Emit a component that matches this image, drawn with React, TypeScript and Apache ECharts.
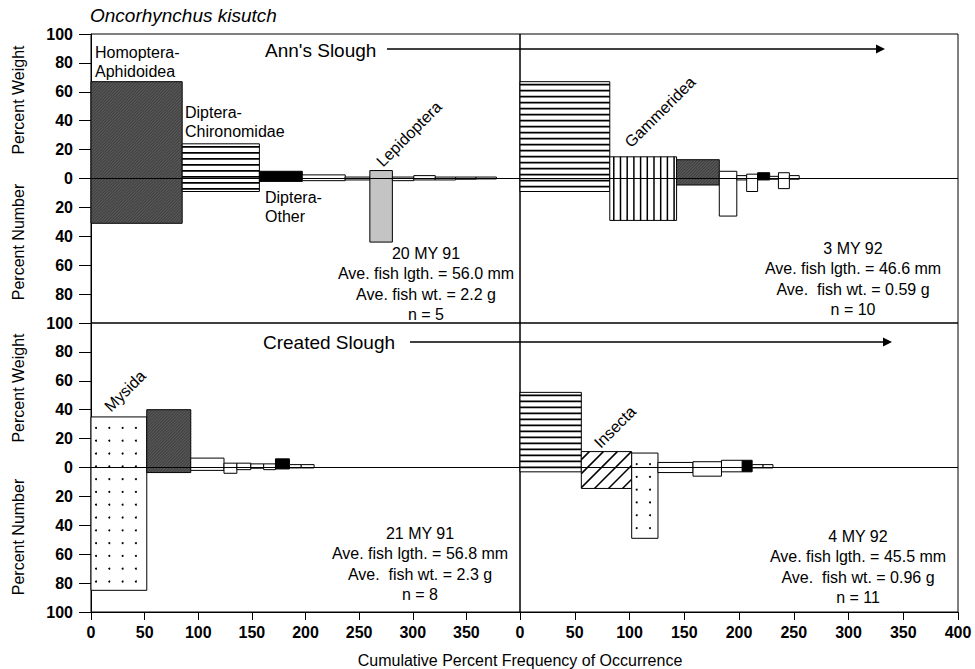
import React, { useEffect, useRef } from "react";
import * as echarts from "echarts";

const FONT = "Liberation Sans, Arial, Helvetica, sans-serif";

// Pattern codes: 0 white, 1 black, 2 dark crosshatch, 3 horizontal lines,
// 4 vertical lines, 5 diagonal hatch, 6 dots, 7 light stipple

// Ann's Slough, 20 MY 91
const annMay91Freq = [85, 72, 40, 40, 23, 21, 20, 20, 19, 19, 19];
const annMay91Weight = [67, 24, 5, 2.5, 1, 5.5, 1, 2, 1, 1, 1];
const annMay91Number = [31, 9, 2, 1.5, 1, 44, 1.5, 1, 1, 0.5, 0.3];
const annMay91Pattern = [2, 3, 1, 0, 0, 7, 0, 0, 0, 0, 0];

// Ann's Slough, 3 MY 92
const annMay92Freq = [82, 61, 39, 16, 9, 10, 11, 8, 10, 9];
const annMay92Weight = [67, 15, 13, 5, 2, 3, 4, 1.5, 4, 2];
const annMay92Number = [9, 29, 4.5, 26, 1, 9, 1, 0.5, 7, 0.5];
const annMay92Pattern = [3, 4, 2, 0, 0, 0, 1, 0, 0, 0];

// Created Slough, 21 MY 91
const crMay91Freq = [52, 41, 31, 12, 13, 12, 11, 13, 11, 12];
const crMay91Weight = [35, 40, 6.5, 3, 3, 2.5, 2.5, 6, 2, 2];
const crMay91Number = [85, 3.5, 2, 4, 1.5, 0.5, 1.5, 1, 0.3, 0.3];
const crMay91Pattern = [6, 2, 0, 0, 0, 0, 0, 1, 0, 0];

// Created Slough, 4 MY 92
const crMay92Freq = [56, 46, 24, 32, 26, 19, 9, 10, 9];
const crMay92Weight = [52, 11, 10, 3.5, 4, 5, 5, 2, 2];
const crMay92Number = [3, 14.5, 49, 3.5, 6, 3, 3, 0.3, 0.3];
const crMay92Pattern = [3, 5, 6, 0, 0, 0, 1, 0, 0];

const yTicks = { min: -100, max: 100, interval: 20 };
const xTicks = { min: 0, max: 400, interval: 50 };
const zeroLine = [
  [0, 0],
  [400, 0],
];

const infoTexts = [
  ["20 MY 91", "Ave. fish lgth. = 56.0 mm", "Ave. fish wt. = 2.2 g", "n = 5"],
  ["3 MY 92", "Ave. fish lgth. = 46.6 mm", "Ave.  fish wt. = 0.59 g", "n = 10"],
  ["21 MY 91", "Ave. fish lgth. = 56.8 mm", "Ave.  fish wt. = 2.3 g", "n = 8"],
  ["4 MY 92", "Ave. fish lgth. = 45.5 mm", "Ave.  fish wt. = 0.96 g", "n = 11"],
];

function buildData(freq: number[], weight: number[], num: number[], pat: number[]) {
  const out: number[][] = [];
  let acc = 0;
  for (let i = 0; i < freq.length; i++) {
    out.push([acc, acc + freq[i], weight[i], num[i], pat[i]]);
    acc += freq[i];
  }
  return out;
}

function renderItem(_params: any, api: any) {
  const x0 = api.value(0);
  const x1 = api.value(1);
  const w = api.value(2);
  const n = api.value(3);
  const p = api.value(4);
  const a = api.coord([x0, w]);
  const b = api.coord([x1, -n]);
  const L = a[0],
    T = a[1],
    R = b[0],
    B = b[1];
  const children: any[] = [];
  let fill = "#fff";
  if (p === 1) fill = "#000";
  else if (p === 2) fill = "#585858";
  else if (p === 7) fill = "#c4c4c4";
  children.push({
    type: "rect",
    shape: { x: L, y: T, width: R - L, height: B - T },
    style: { fill, stroke: "#000", lineWidth: 1 },
  });
  if (p === 2) {
    const s = 3;
    for (let c = L + T; c < R + B; c += s) {
      const xa = Math.max(L, c - B);
      const xb = Math.min(R, c - T);
      if (xb > xa)
        children.push({
          type: "line",
          shape: { x1: xa, y1: c - xa, x2: xb, y2: c - xb },
          style: { stroke: "#2e2e2e", lineWidth: 0.8 },
        });
    }
  }
  if (p === 3) {
    for (let y = T + 3; y < B - 1; y += 6)
      children.push({
        type: "line",
        shape: { x1: L, y1: y, x2: R, y2: y },
        style: { stroke: "#000", lineWidth: 1.7 },
      });
  }
  if (p === 4) {
    for (let x = L + 4; x < R - 1; x += 6.7)
      children.push({
        type: "line",
        shape: { x1: x, y1: T, x2: x, y2: B },
        style: { stroke: "#000", lineWidth: 1.5 },
      });
  }
  if (p === 5) {
    const s = 14;
    for (let c = L + T + 8; c < R + B; c += s) {
      const xa = Math.max(L, c - B);
      const xb = Math.min(R, c - T);
      if (xb > xa)
        children.push({
          type: "line",
          shape: { x1: xa, y1: c - xa, x2: xb, y2: c - xb },
          style: { stroke: "#000", lineWidth: 1.5 },
        });
    }
  }
  if (p === 6) {
    for (let y = T + 11; y < B - 4; y += 12.8)
      for (let x = L + 5; x < R - 3; x += 13.3)
        children.push({
          type: "circle",
          shape: { cx: x, cy: y, r: 1 },
          style: { fill: "#000" },
        });
  }
  return { type: "group", children };
}

const panels = [
  buildData(annMay91Freq, annMay91Weight, annMay91Number, annMay91Pattern),
  buildData(annMay92Freq, annMay92Weight, annMay92Number, annMay92Pattern),
  buildData(crMay91Freq, crMay91Weight, crMay91Number, crMay91Pattern),
  buildData(crMay92Freq, crMay92Weight, crMay92Number, crMay92Pattern),
];

function txt(text: string, x: number, y: number, opts: any = {}) {
  return {
    type: "text",
    x,
    y,
    rotation: opts.rotation || 0,
    z: 100,
    style: {
      text,
      fill: "#000",
      fontSize: opts.size || 16,
      fontFamily: FONT,
      fontStyle: opts.italic ? "italic" : "normal",
      fontWeight: opts.weight || "normal",
      textAlign: opts.align || "left",
      textVerticalAlign: "middle",
    },
  };
}

export default function App() {
  const ref = useRef<HTMLDivElement>(null);
  useEffect(() => {
    if (!ref.current) return;
    const chart = echarts.init(ref.current, undefined, { renderer: "svg" });
    const gridDefs = [
      { left: 91, top: 34, width: 429, height: 289 },
      { left: 520, top: 34, width: 438, height: 289 },
      { left: 91, top: 323, width: 429, height: 289 },
      { left: 520, top: 323, width: 438, height: 289 },
    ];
    const grid = gridDefs.map((g) => ({
      ...g,
      show: true,
      borderColor: "#000",
      borderWidth: 1,
      backgroundColor: "transparent",
    }));
    const xAxis = gridDefs.map((_g, i) => ({
      type: "value",
      gridIndex: i,
      ...xTicks,
      show: i >= 2,
      axisLine: { show: true, onZero: false, lineStyle: { color: "#000", width: 1 } },
      axisTick: { show: true, length: 8, lineStyle: { color: "#000", width: 1 } },
      axisLabel: {
        color: "#000",
        fontSize: 16,
        fontFamily: FONT,
        fontWeight: "bold",
        margin: 12,
        showMaxLabel: i === 3,
      },
      splitLine: { show: false },
    }));
    const yAxis = gridDefs.map((_g, i) => ({
      type: "value",
      gridIndex: i,
      ...yTicks,
      show: i === 0 || i === 2,
      axisLine: { show: true, lineStyle: { color: "#000", width: 1 } },
      axisTick: { show: true, length: 12, lineStyle: { color: "#000", width: 1 } },
      axisLabel: {
        color: "#000",
        fontSize: 16,
        fontFamily: FONT,
        fontWeight: "bold",
        margin: 18,
        showMaxLabel: i === 0,
        formatter: (v: number) => String(Math.abs(v)),
      },
      splitLine: { show: false },
    }));
    const series: any[] = [];
    panels.forEach((data, i) => {
      series.push({
        type: "custom",
        xAxisIndex: i,
        yAxisIndex: i,
        data,
        renderItem,
        encode: { x: [0, 1], y: [2, 3] },
        z: 2,
      });
      series.push({
        type: "line",
        xAxisIndex: i,
        yAxisIndex: i,
        data: zeroLine,
        symbol: "none",
        lineStyle: { color: "#000", width: 1.2 },
        z: 5,
        silent: true,
      });
    });

    const centers = [
      [426, 253],
      [853, 248],
      [420, 533],
      [858, 536],
    ];
    const graphic: any[] = [];
    centers.forEach((c, i) => {
      infoTexts[i].forEach((line, j) => {
        graphic.push(txt(line, c[0], c[1] + j * 20.5, { align: "center" }));
      });
    });
    graphic.push(txt("Oncorhynchus kisutch", 90, 15, { italic: true, size: 19 }));
    graphic.push(txt("Ann's Slough", 265, 50, { size: 19 }));
    graphic.push(txt("Created Slough", 263, 342, { size: 19 }));
    graphic.push({
      type: "line",
      shape: { x1: 387, y1: 49, x2: 878, y2: 49 },
      style: { stroke: "#000", lineWidth: 1.4 },
      z: 100,
    });
    graphic.push({
      type: "polygon",
      shape: { points: [[876, 44.5], [885, 49], [876, 53.5]] },
      style: { fill: "#000" },
      z: 100,
    });
    graphic.push({
      type: "line",
      shape: { x1: 410, y1: 342, x2: 885, y2: 342 },
      style: { stroke: "#000", lineWidth: 1.4 },
      z: 100,
    });
    graphic.push({
      type: "polygon",
      shape: { points: [[883, 337.5], [892, 342], [883, 346.5]] },
      style: { fill: "#000" },
      z: 100,
    });
    graphic.push(txt("Homoptera-", 95, 52));
    graphic.push(txt("Aphidoidea", 95, 71));
    graphic.push(txt("Diptera-", 185, 112));
    graphic.push(txt("Chironomidae", 185, 131));
    graphic.push(txt("Diptera-", 265, 197));
    graphic.push(txt("Other", 265, 216));
    graphic.push(txt("Lepidoptera", 409, 134, { align: "center", rotation: Math.PI / 4 }));
    graphic.push(txt("Gammeridea", 660, 112, { align: "center", rotation: Math.PI / 4 }));
    graphic.push(txt("Mysida", 125, 391, { align: "center", rotation: Math.PI / 4 }));
    graphic.push(txt("Insecta", 615, 427, { align: "center", rotation: Math.PI / 4 }));
    graphic.push(txt("Percent Weight", 18, 100, { align: "center", rotation: Math.PI / 2 }));
    graphic.push(txt("Percent Number", 18, 242, { align: "center", rotation: Math.PI / 2 }));
    graphic.push(txt("Percent Weight", 18, 388, { align: "center", rotation: Math.PI / 2 }));
    graphic.push(txt("Percent Number", 18, 537, { align: "center", rotation: Math.PI / 2 }));
    graphic.push(
      txt("Cumulative Percent Frequency of Occurrence", 520, 660, { align: "center" })
    );

    chart.setOption({
      animation: false,
      backgroundColor: "#fff",
      grid,
      xAxis,
      yAxis,
      series,
      graphic,
    });
    return () => chart.dispose();
  }, []);
  return (
    <div
      ref={ref}
      style={{ position: "absolute", left: 0, top: 0, width: 975, height: 669 }}
    />
  );
}
